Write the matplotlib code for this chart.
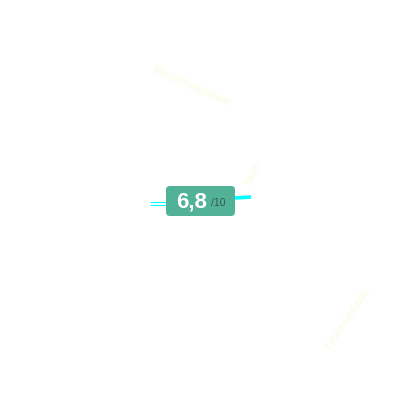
import matplotlib
matplotlib.use("Agg")
from matplotlib.pyplot import figure
from matplotlib.patches import FancyBboxPatch

# map values in pixels
score = "6,8"
score_max = "/10"
street_names = ["Rozenburgstraat", "Laan", "Cromvlietkade"]
street_x = [191.5, 252, 347.5]
street_y = [86, 174, 318.5]
street_angle = [-24, 62, 56]
road_x = [[150, 166], [150, 166], [235, 251]]
road_y = [[201.5, 201.5], [204.5, 204.5], [198, 197]]
road_width = [0.8, 0.8, 2.6]

fig = figure(figsize=(4, 4), dpi=100)
ax = fig.add_axes([0, 0, 1, 1])
ax.set_xlim(0, 400)
ax.set_ylim(400, 0)
ax.axis("off")

for x, y, w in zip(road_x, road_y, road_width):
    ax.plot(x, y, color="#00ffff", lw=w, solid_capstyle="butt")

for name, x, y, a in zip(street_names, street_x, street_y, street_angle):
    ax.text(x, y, name, color="#fbfbe0", fontsize=8, rotation=a,
            rotation_mode="anchor", ha="center", va="center",
            family="Liberation Sans")

# score badge
ax.add_patch(FancyBboxPatch((169, 189), 63, 24,
                            boxstyle="round,pad=3,rounding_size=4",
                            fc="#52b297", ec="none", zorder=3))
ax.text(191.5, 202, score, color="white", fontsize=16, weight="bold",
        ha="center", va="center", family="Liberation Sans", zorder=4)
ax.text(218.5, 203.5, score_max, color="#35574c", fontsize=7.5,
        ha="center", va="center", family="Liberation Sans", zorder=4)

fig.savefig("out.png", dpi=100)
